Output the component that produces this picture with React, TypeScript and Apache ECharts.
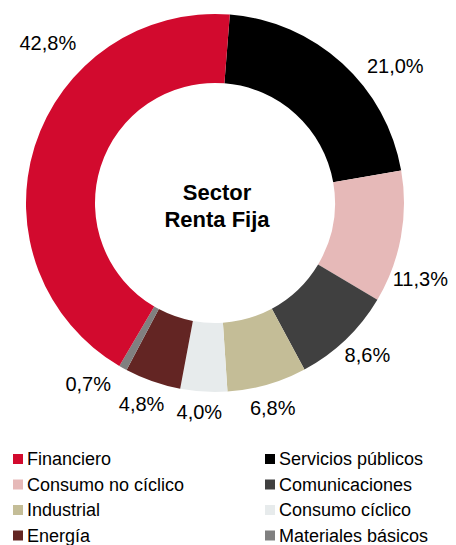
import React, { useEffect, useRef } from "react";
import * as echarts from "echarts";

const sectors = [
  "Servicios públicos",
  "Consumo no cíclico",
  "Comunicaciones",
  "Industrial",
  "Consumo cíclico",
  "Energía",
  "Materiales básicos",
  "Financiero",
];
const values = [21.0, 11.3, 8.6, 6.8, 4.0, 4.8, 0.7, 42.8];
const colors = [
  "#000000",
  "#E6B9B8",
  "#404040",
  "#C4BD97",
  "#E7EBEC",
  "#632523",
  "#808080",
  "#D20A2E",
];
const legendLeft = ["Financiero", "Consumo no cíclico", "Industrial", "Energía"];
const legendRight = ["Servicios públicos", "Comunicaciones", "Consumo cíclico", "Materiales básicos"];
const centerTitle = "Sector\nRenta Fija";

// small per-label nudges (style), in the order of `sectors`
const labelNudges: [number, number][] = [
  [9, 10],
  [-27, 40],
  [-17, 8],
  [-29, 14],
  [28, 10],
  [24, 13],
  [2, 7],
  [60, -100],
];

export default function App() {
  const ref = useRef<HTMLDivElement>(null);
  useEffect(() => {
    document.body.style.margin = "0";
    const chart = echarts.init(ref.current!, undefined, { renderer: "svg" });
    const font = "Liberation Sans, Arial, sans-serif";
    const legendCommon = {
      orient: "vertical" as const,
      top: 445,
      height: 130,
      itemWidth: 10,
      itemHeight: 10,
      itemGap: 7.5,
      icon: "rect",
      selectedMode: false,
      textStyle: { fontFamily: font, fontSize: 18, color: "#000", padding: [0, 0, 0, -1] },
    };
    chart.setOption({
      animation: false,
      color: colors,
      legend: [
        { ...legendCommon, left: 8, data: legendLeft },
        { ...legendCommon, left: 260, data: legendRight },
      ],
      graphic: [
        {
          type: "text",
          x: 217,
          y: 206,
          style: {
            text: centerTitle,
            font: `bold 22px ${font}`,
            fill: "#000",
            align: "center",
            verticalAlign: "middle",
            lineHeight: 27,
          },
        },
      ],
      series: [
        {
          type: "pie",
          radius: [120, 189],
          center: [215, 203],
          startAngle: 85.5,
          clockwise: true,
          avoidLabelOverlap: false,
          data: sectors.map((name, i) => ({ name, value: values[i] })),
          label: {
            show: true,
            position: "outside",
            fontFamily: font,
            fontSize: 20,
            color: "#000",
            formatter: (p: any) => p.value.toFixed(1).replace(".", ",") + "%",
          },
          labelLine: { show: false, length: 10, length2: 4 },
          labelLayout: (p: any) => ({
            dx: labelNudges[p.dataIndex][0],
            dy: labelNudges[p.dataIndex][1],
            hideOverlap: false,
          }),
          emphasis: { disabled: true },
        },
      ],
    });
    return () => chart.dispose();
  }, []);
  return <div ref={ref} style={{ width: 456, height: 545 }} />;
}
